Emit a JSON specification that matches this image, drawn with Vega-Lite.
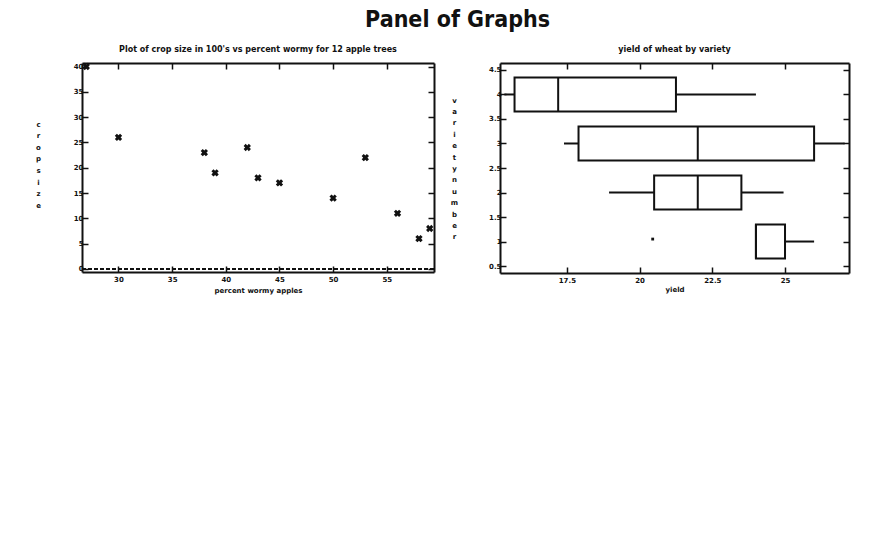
{
  "$schema": "https://vega.github.io/schema/vega-lite/v6.json",
  "padding": {"left": 35, "top": 9, "right": 5, "bottom": 5},
  "background": "white",
  "title": {"text": "Panel of Graphs", "font": "DejaVu Sans Condensed, DejaVu Sans", "fontSize": 23, "fontWeight": "bold", "anchor": "middle", "color": "#111", "offset": 14, "dx": 15},
  "datasets": {
    "apples": [
      {"wormy": 27, "crop": 40}, {"wormy": 30, "crop": 26}, {"wormy": 38, "crop": 23},
      {"wormy": 39, "crop": 19}, {"wormy": 42, "crop": 24}, {"wormy": 43, "crop": 18},
      {"wormy": 45, "crop": 17}, {"wormy": 50, "crop": 14}, {"wormy": 53, "crop": 22},
      {"wormy": 56, "crop": 11}, {"wormy": 58, "crop": 6}, {"wormy": 59, "crop": 8}
    ],
    "wheat": [
      {"variety": 4, "lower": 15.35, "q1": 15.7, "median": 17.2, "q3": 21.25, "upper": 24.0},
      {"variety": 3, "lower": 17.4, "q1": 17.9, "median": 22.0, "q3": 26.0, "upper": 27.05},
      {"variety": 2, "lower": 18.95, "q1": 20.5, "median": 22.0, "q3": 23.5, "upper": 24.95},
      {"variety": 1, "lower": 24.0, "q1": 24.0, "median": 24.0, "q3": 25.0, "upper": 26.0}
    ],
    "outliers": [{"variety": 1.05, "yield": 20.45}]
  },
  "config": {
    "font": "DejaVu Sans",
    "view": {"stroke": null},
    "axis": {
      "domainColor": "#111", "domainWidth": 2, "tickColor": "#111", "tickWidth": 1.5,
      "tickSize": -6, "labelFont": "DejaVu Sans", "labelFontSize": 7, "labelFontWeight": "bold",
      "labelColor": "#111", "titleFont": "DejaVu Sans", "titleFontSize": 7, "titleFontWeight": "bold",
      "titleColor": "#111", "grid": false, "labelPadding": 5
    },
    "axisBottom": {"labelPadding": 9},
    "title": {"font": "DejaVu Sans", "fontSize": 8, "fontWeight": "bold", "color": "#111", "offset": 8}
  },
  "hconcat": [
    {
      "title": "Plot of crop size in 100's vs percent wormy for 12 apple trees",
      "width": 352, "height": 209,
      "data": {"name": "apples"},
      "layer": [
        {
          "mark": {"type": "point", "shape": "cross", "angle": 45, "filled": true, "color": "#111", "size": 55, "opacity": 1},
          "encoding": {
            "x": {"field": "wormy", "type": "quantitative", "scale": {"domain": [26.6, 59.4], "nice": false, "zero": false},
                  "axis": {"orient": "bottom", "values": [30, 35, 40, 45, 50, 55], "title": "percent wormy apples", "titlePadding": 4}},
            "y": {"field": "crop", "type": "quantitative", "scale": {"domain": [-0.6, 40.7], "nice": false},
                  "axis": {"orient": "left", "values": [0, 5, 10, 15, 20, 25, 30, 35, 40], "title": ["c", "r", "o", "p", "", "s", "i", "z", "e"], "titleAngle": 0, "titleAlign": "center", "titleLineHeight": 11.6, "titleBaseline": "middle", "titleX": -44, "titleY": 61}}
          }
        },
        {
          "mark": {"type": "rule", "color": "#111", "strokeDash": [4, 2], "strokeWidth": 1.5},
          "encoding": {"y": {"datum": 0, "type": "quantitative", "axis": null}}
        },
        {
          "mark": {"type": "point", "opacity": 0},
          "encoding": {
            "x": {"field": "wormy", "type": "quantitative", "axis": {"orient": "top", "values": [30, 35, 40, 45, 50, 55], "labels": false, "title": null}},
            "y": {"field": "crop", "type": "quantitative", "axis": {"orient": "right", "values": [0, 5, 10, 15, 20, 25, 30, 35, 40], "labels": false, "title": null}}
          }
        }
      ],
      "resolve": {"axis": {"x": "independent", "y": "independent"}}
    },
    {
      "title": "yield of wheat by variety",
      "width": 349, "height": 210,
      "layer": [
        {
          "data": {"name": "wheat"},
          "mark": {"type": "rule", "color": "#111", "strokeWidth": 2},
          "encoding": {
            "x": {"field": "lower", "type": "quantitative", "scale": {"domain": [15.2, 27.2], "nice": false, "zero": false},
                  "axis": {"orient": "bottom", "values": [17.5, 20, 22.5, 25], "format": ".1~f", "title": "yield", "titlePadding": 2}},
            "x2": {"field": "q1"},
            "y": {"field": "variety", "type": "quantitative", "scale": {"domain": [0.46, 4.54], "nice": false, "zero": false},
                  "axis": {"orient": "left", "values": [0.5, 1, 1.5, 2, 2.5, 3, 3.5, 4, 4.5], "format": ".1~f", "title": ["v", "a", "r", "i", "e", "t", "y", "", "n", "u", "m", "b", "e", "r"], "titleAngle": 0, "titleAlign": "center", "titleLineHeight": 11.4, "titleBaseline": "middle", "titleX": -46, "titleY": 37}}
          }
        },
        {
          "data": {"name": "wheat"},
          "mark": {"type": "rule", "color": "#111", "strokeWidth": 2},
          "encoding": {
            "x": {"field": "q3", "type": "quantitative", "axis": null},
            "x2": {"field": "upper"},
            "y": {"field": "variety", "type": "quantitative", "axis": null}
          }
        },
        {
          "data": {"name": "wheat"},
          "mark": {"type": "bar", "fill": "white", "stroke": "#111", "strokeWidth": 2, "size": 34, "orient": "horizontal"},
          "encoding": {
            "x": {"field": "q1", "type": "quantitative", "axis": null},
            "x2": {"field": "q3"},
            "y": {"field": "variety", "type": "quantitative", "axis": null}
          }
        },
        {
          "data": {"name": "wheat"},
          "mark": {"type": "tick", "orient": "vertical", "color": "#111", "thickness": 2, "size": 34, "opacity": 1},
          "encoding": {
            "x": {"field": "median", "type": "quantitative", "axis": null},
            "y": {"field": "variety", "type": "quantitative", "axis": null}
          }
        },
        {
          "data": {"name": "outliers"},
          "mark": {"type": "square", "color": "#111", "size": 8, "opacity": 1},
          "encoding": {
            "x": {"field": "yield", "type": "quantitative", "axis": null},
            "y": {"field": "variety", "type": "quantitative", "axis": null}
          }
        },
        {
          "data": {"name": "wheat"},
          "mark": {"type": "point", "opacity": 0},
          "encoding": {
            "x": {"field": "median", "type": "quantitative", "axis": {"orient": "top", "values": [17.5, 20, 22.5, 25], "labels": false, "title": null}},
            "y": {"field": "variety", "type": "quantitative", "axis": {"orient": "right", "values": [0.5, 1, 1.5, 2, 2.5, 3, 3.5, 4, 4.5], "labels": false, "title": null}}
          }
        }
      ],
      "resolve": {"axis": {"x": "independent", "y": "independent"}}
    }
  ],
  "spacing": 15
}
